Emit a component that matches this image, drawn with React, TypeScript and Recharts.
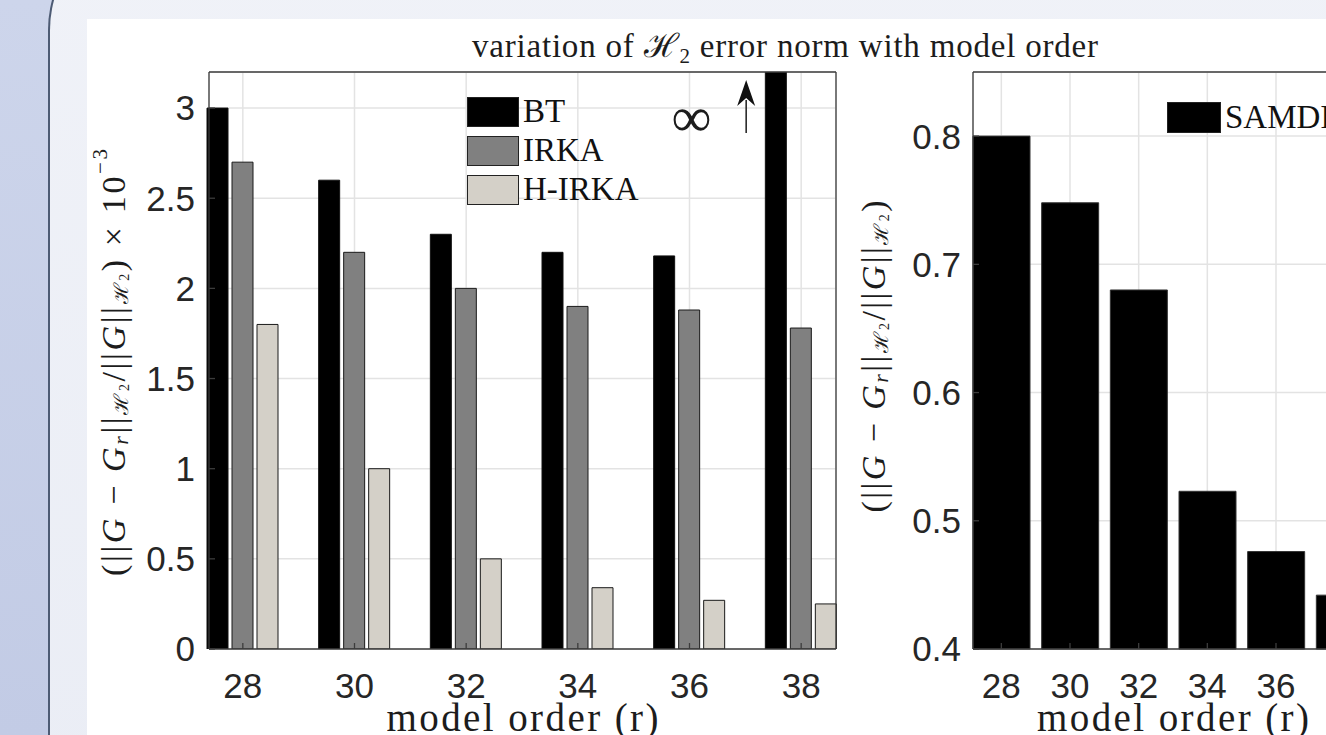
import React from "react";
import { BarChart, Bar, XAxis, YAxis, CartesianGrid, Legend, ReferenceDot } from "recharts";

// model orders on the x axis (both panels)
const orders = ["28", "30", "32", "34", "36", "38"];

// relative H2 error x 1e-3, left panel
// r=38: BT diverges (marked with an infinity sign), bar runs off the top
const btErr = [3.0, 2.6, 2.3, 2.2, 2.18, 3.2];
const irkaErr = [2.7, 2.2, 2.0, 1.9, 1.88, 1.78];
const hirkaErr = [1.8, 1.0, 0.5, 0.34, 0.27, 0.25];

// relative H2 error, right panel
const samdiErr = [0.8, 0.748, 0.68, 0.523, 0.476, 0.442];

const seriesNames = ["BT", "IRKA", "H-IRKA", "SAMDI"];
const leftTicks = [0, 0.5, 1, 1.5, 2, 2.5, 3];
const rightTicks = [0.4, 0.5, 0.6, 0.7, 0.8];

const leftData = orders.map((r, i) => ({ r, bt: btErr[i], irka: irkaErr[i], hirka: hirkaErr[i] }));
const rightData = orders.map((r, i) => ({ r, samdi: samdiErr[i] }));

const SERIF = "'Liberation Serif', 'DejaVu Serif', serif";
const tickFont = { fontFamily: "'Liberation Sans', Arial, sans-serif", fontSize: 35, fill: "#262626" };
const frame = { stroke: "#3c3c3c", strokeWidth: 1.3 };

function BoxLegend({ payload, sw = 52, sh = 30 }: any) {
    const items = [...(payload || [])].sort(
        (a: any, b: any) => seriesNames.indexOf(a.value) - seriesNames.indexOf(b.value)
    );
    return (
        <div>
            {items.map((e: any) => (
                <div key={e.value} style={{ display: "flex", alignItems: "center", height: 39 }}>
                    <span
                        style={{
                            display: "inline-block",
                            width: sw,
                            height: sh,
                            background: e.color,
                            border: "1.5px solid #222",
                            boxSizing: "border-box",
                        }}
                    />
                    <span style={{ fontFamily: SERIF, fontSize: 33, marginLeft: 4, lineHeight: 1, color: "#111" }}>
                        {e.value}
                    </span>
                </div>
            ))}
        </div>
    );
}

function YMathLabel({ viewBox, withScale }: any) {
    const vb = viewBox || { x: 0, y: 0, width: 0, height: 0 };
    const cx = vb.x + 26;
    const cy = vb.y + vb.height / 2 + (withScale ? 2 : -4);
    return (
        <text
            x={cx}
            y={cy}
            transform={`rotate(-90 ${cx} ${cy})`}
            textAnchor="middle"
            dominantBaseline="central"
            fontFamily={SERIF}
            fontSize={34}
            fill="#1c1c1c"
            textLength={withScale ? 427 : 312}
            lengthAdjust="spacing"
        >
            <tspan>(||</tspan>
            <tspan fontStyle="italic">G</tspan>
            <tspan> − </tspan>
            <tspan fontStyle="italic">G</tspan>
            <tspan fontStyle="italic" fontSize={22} dy={7}>r</tspan>
            <tspan dy={-7}>||</tspan>
            <tspan fontSize={20} dy={8}>ℋ</tspan>
            <tspan fontSize={14} dy={3}>2</tspan>
            <tspan dy={-11}>/||</tspan>
            <tspan fontStyle="italic">G</tspan>
            <tspan>||</tspan>
            <tspan fontSize={20} dy={8}>ℋ</tspan>
            <tspan fontSize={14} dy={3}>2</tspan>
            <tspan dy={-11}>)</tspan>
            {withScale && <tspan> × 10</tspan>}
            {withScale && <tspan fontSize={21} dy={-13}>−3</tspan>}
        </text>
    );
}

function XLabel({ viewBox }: any) {
    const vb = viewBox || { x: 0, y: 0, width: 0, height: 0 };
    return (
        <text
            x={vb.x + vb.width / 2}
            y={vb.y + 82}
            textAnchor="middle"
            fontFamily={SERIF}
            fontSize={39}
            fill="#1c1c1c"
            textLength={272}
            lengthAdjust="spacing"
        >
            model order (r)
        </text>
    );
}

const InfinityMark = (p: any) => (
    <text x={p.cx + 2} y={p.cy} textAnchor="middle" dominantBaseline="central" fontFamily={SERIF} fontSize={56} fill="#1c1c1c">
        ∞
    </text>
);

// arrow sits half a group to the left of r=38, pointing up at the clipped BT bar
const ArrowMark = (p: any) => {
    const x = p.cx - 55;
    const y = p.cy;
    return (
        <g>
            <line x1={x} y1={y + 20} x2={x} y2={y + 53} stroke="#1c1c1c" strokeWidth={1.5} />
            <polygon points={`${x},${y} ${x - 9},${y + 26} ${x},${y + 18} ${x + 9},${y + 26}`} fill="#111" />
        </g>
    );
};

export default function App() {
    return (
        <div
            style={{
                position: "fixed",
                left: 0,
                top: 0,
                width: 1326,
                height: 735,
                overflow: "hidden",
                background: "linear-gradient(#cdd5eb, #c2cbe5)",
            }}
        >
            <div
                style={{
                    position: "absolute",
                    left: 48,
                    top: -84,
                    width: 1400,
                    height: 900,
                    background: "linear-gradient(#f0f2f8, #eaedf5)",
                    borderLeft: "2px solid #4d5b74",
                    borderTop: "2px solid #4d5b74",
                    borderTopLeftRadius: 114,
                }}
            />
            <div style={{ position: "absolute", left: 87, top: 19, width: 1300, height: 800, background: "#fff" }} />

            {/* left panel: BT / IRKA / H-IRKA */}
            <div style={{ position: "absolute", left: 87, top: 19 }}>
                <BarChart
                    width={760}
                    height={716}
                    data={leftData}
                    margin={{ top: 52, right: 10, left: 0, bottom: 0 }}
                    barGap={4}
                    barSize={21}
                >
                    <CartesianGrid xAxisId="b" yAxisId="l" stroke="#e3e3e3" strokeWidth={1.5} />
                    <XAxis
                        xAxisId="b"
                        dataKey="r"
                        height={86}
                        padding={{ left: -22, right: -21 }}
                        interval={0}
                        tickSize={-6}
                        tickMargin={30}
                        tick={tickFont}
                        axisLine={frame}
                        tickLine={frame}
                        allowDataOverflow
                        label={{ content: (p: any) => <XLabel viewBox={p.viewBox} /> }}
                    />
                    <XAxis
                        xAxisId="t"
                        dataKey="r"
                        orientation="top"
                        height={1}
                        padding={{ left: -22, right: -21 }}
                        interval={0}
                        tickSize={-6}
                        tick={false}
                        axisLine={frame}
                        tickLine={frame}
                    />
                    <YAxis
                        yAxisId="l"
                        width={122}
                        domain={[0, 3.2]}
                        ticks={leftTicks}
                        tickSize={-6}
                        tickMargin={20}
                        tick={tickFont}
                        axisLine={frame}
                        tickLine={frame}
                        allowDataOverflow
                        label={{ content: (p: any) => <YMathLabel viewBox={p.viewBox} withScale /> }}
                    />
                    <YAxis
                        yAxisId="rt"
                        orientation="right"
                        width={1}
                        domain={[0, 3.2]}
                        ticks={leftTicks}
                        tickSize={-6}
                        tick={false}
                        axisLine={frame}
                        tickLine={frame}
                    />
                    <Legend
                        layout="vertical"
                        align="center"
                        verticalAlign="middle"
                        wrapperStyle={{ left: 380, top: 73, width: "auto" }}
                        content={(p: any) => <BoxLegend payload={p.payload} />}
                    />
                    <Bar xAxisId="b" yAxisId="l" dataKey="bt" name="BT" fill="#000000" stroke="#111" isAnimationActive={false} />
                    <Bar xAxisId="b" yAxisId="l" dataKey="irka" name="IRKA" fill="#808080" stroke="#1a1a1a" isAnimationActive={false} />
                    <Bar xAxisId="b" yAxisId="l" dataKey="hirka" name="H-IRKA" fill="#d4d0c8" stroke="#1a1a1a" isAnimationActive={false} />
                    <ReferenceDot xAxisId="b" yAxisId="l" x="36" y={2.95} r={0} shape={InfinityMark} />
                    <ReferenceDot xAxisId="b" yAxisId="l" x="38" y={3.156} r={0} shape={ArrowMark} />
                </BarChart>
            </div>

            {/* right panel: SAMDI */}
            <div style={{ position: "absolute", left: 847, top: 19 }}>
                <BarChart
                    width={560}
                    height={716}
                    data={rightData}
                    margin={{ top: 52, right: 33, left: 0, bottom: 0 }}
                    barSize={57}
                >
                    <CartesianGrid xAxisId="b" yAxisId="l" stroke="#e3e3e3" strokeWidth={1.5} />
                    <XAxis
                        xAxisId="b"
                        dataKey="r"
                        height={86}
                        padding={{ left: -6, right: -6 }}
                        interval={0}
                        tickSize={-6}
                        tickMargin={30}
                        tick={tickFont}
                        axisLine={frame}
                        tickLine={frame}
                        label={{ content: (p: any) => <XLabel viewBox={p.viewBox} /> }}
                    />
                    <XAxis
                        xAxisId="t"
                        dataKey="r"
                        orientation="top"
                        height={1}
                        padding={{ left: -6, right: -6 }}
                        interval={0}
                        tickSize={-6}
                        tick={false}
                        axisLine={frame}
                        tickLine={frame}
                    />
                    <YAxis
                        yAxisId="l"
                        width={126}
                        domain={[0.4, 0.85]}
                        ticks={rightTicks}
                        tickSize={-6}
                        tickMargin={18}
                        tick={tickFont}
                        axisLine={frame}
                        tickLine={frame}
                        label={{ content: (p: any) => <YMathLabel viewBox={p.viewBox} /> }}
                    />
                    <YAxis
                        yAxisId="rt"
                        orientation="right"
                        width={1}
                        domain={[0.4, 0.85]}
                        ticks={rightTicks}
                        tickSize={-6}
                        tick={false}
                        axisLine={frame}
                        tickLine={frame}
                    />
                    <Legend
                        layout="vertical"
                        align="center"
                        verticalAlign="middle"
                        wrapperStyle={{ left: 320, top: 79, width: "auto" }}
                        content={(p: any) => <BoxLegend payload={p.payload} sw={54} sh={31} />}
                    />
                    <Bar xAxisId="b" yAxisId="l" dataKey="samdi" name="SAMDI" fill="#000000" stroke="#333" isAnimationActive={false} />
                </BarChart>
            </div>

            <svg style={{ position: "absolute", left: 0, top: 0 }} width={1326} height={80}>
                <text
                    x={785}
                    y={57}
                    textAnchor="middle"
                    fontFamily={SERIF}
                    fontSize={33}
                    fill="#1c1c1c"
                    textLength={626}
                    lengthAdjust="spacing"
                >
                    <tspan>variation of </tspan>
                    <tspan>ℋ</tspan>
                    <tspan fontSize={21} dy={6}>2</tspan>
                    <tspan dy={-6}> error norm with model order</tspan>
                </text>
            </svg>
        </div>
    );
}
